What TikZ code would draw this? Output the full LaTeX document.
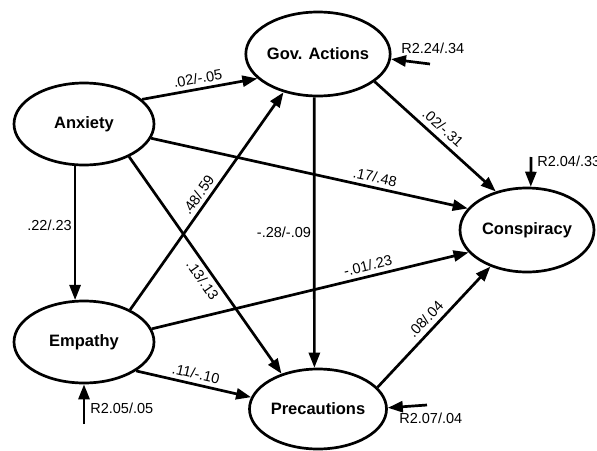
\documentclass[tikz,border=0pt]{standalone}
\usepackage{fontspec}
\setmainfont{Liberation Sans}
\usetikzlibrary{arrows.meta,shapes.geometric}

\begin{document}
\begin{tikzpicture}[x=1pt, y=-1pt, line width=2.7pt, >={Triangle[length=15pt,width=11pt]},
                    main node/.style={ellipse,draw,inner sep=0pt,minimum width=140pt,minimum height=82pt,
                                      font=\fontsize{16.5}{18}\selectfont\bfseries},
                    coef/.style={font=\fontsize{14.5}{16}\selectfont,inner sep=4pt}]

  \useasboundingbox (0,0) rectangle (597,450);

  \node[main node] (anx) at (84,124) {Anxiety};
  \node[main node] (emp) at (84,342) {Empathy};
    \node[main node,minimum height=84pt] (gov) at (318,54) {Gov. Actions};
    \node[main node,minimum width=137pt,minimum height=80pt] (pre) at (318,409) {Precautions};
      \node[main node,minimum width=134pt,minimum height=84pt] (con) at (527,230) {Conspiracy};

\path[every edge/.style={draw,->}]
    (anx.23) edge node [coef,sloped,above] {.02/-.05} (gov.-158)
    (anx.-102) edge node [coef,left,inner sep=2pt,pos=0.44] {.22/.23} (emp.102)
    (anx.-12) edge node [coef,sloped,above,pos=0.7] {.17/.48} (con.160)
    (anx.-36) edge node [coef,sloped,below,pos=0.54] {.13/.13} (pre.136)

    (emp.35) edge node [coef,sloped,above] {.48/.59} (gov.-132)
    (emp.11) edge node [coef,sloped,above,pos=0.69] {-.01/.23} (con.-159)
    (emp.-29) edge node [coef,sloped,above] {.11/-.10} (pre.170)

    (gov.-95) edge node [coef,left,inner sep=2pt] {-.28/-.09} (pre.95)
    (gov.-26) edge node [coef,sloped,above,inner sep=5pt] {.02/-.31} (con.129)
    (pre.20) edge node [coef,sloped,above,inner sep=5pt] {.08/.04} (con.-135);

  % residuals
  \coordinate (govr) at (430,64);
  \coordinate (conr) at (531,157);
  \coordinate (empr) at (84,424);
  \coordinate (prer) at (427,405);

  \draw[->] (govr) -- (gov.-4);
  \draw[->] (conr) -- (con.85);
  \draw[->] (empr) -- (emp.-90);
  \draw[->] (prer) -- (pre.1);

  \node[coef,anchor=west] (govres) at (396,48) {R2.24/.34};
  \node[coef,anchor=west] (conres) at (532,161) {R2.04/.33};
  \node[coef,anchor=west] (empres) at (85,408) {R2.05/.05};
  \node[coef,anchor=west] (preres) at (394,418) {R2.07/.04};

\end{tikzpicture}
\end{document}
